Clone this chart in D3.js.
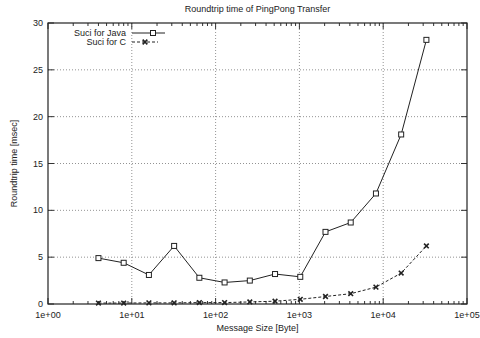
<!DOCTYPE html>
<html>
<head>
<meta charset="utf-8">
<script src="https://cdn.jsdelivr.net/npm/d3@7"></script>
<style>
  body { margin: 0; background: #fff; }
  text { font-family: "Liberation Sans", Arial, sans-serif; fill: #222; }
</style>
</head>
<body>
<div id="vis-container"></div>
<script>
// data
let sizes = [4, 8, 16, 32, 64, 128, 256, 512, 1024, 2048, 4096, 8192, 16384, 32768];
let javaTimes = [4.9, 4.4, 3.1, 6.2, 2.8, 2.3, 2.5, 3.2, 2.9, 7.7, 8.7, 11.8, 18.1, 28.2];
let cTimes = [0.1, 0.1, 0.12, 0.12, 0.15, 0.15, 0.22, 0.3, 0.5, 0.8, 1.1, 1.8, 3.3, 6.2];
let xTicks = [1, 10, 100, 1000, 10000, 100000];
let xTickLabels = ["1e+00", "1e+01", "1e+02", "1e+03", "1e+04", "1e+05"];
let yTicks = [0, 5, 10, 15, 20, 25, 30];

let margin = {top:23, right:13, bottom:34, left:48};
let width = 480 - margin.left - margin.right;
let height = 338 - margin.top - margin.bottom;

let svg = d3.select("#vis-container")
  .append("svg")
  .attr("width", 480)
  .attr("height", 338);

let g = svg.append("g")
  .attr("transform", `translate(${margin.left}, ${margin.top})`);

let x = d3.scaleLog()
  .domain([1, 100000])
  .range([0, width]);

let y = d3.scaleLinear()
  .domain([0, 30])
  .range([height, 0]);

// grid
g.append("g")
  .selectAll("line")
  .data(yTicks.slice(1, -1))
  .enter().append("line")
  .attr("x1", 0).attr("x2", width)
  .attr("y1", d=>y(d)).attr("y2", d=>y(d))
  .attr("stroke", "#777").attr("stroke-width", 0.8)
  .attr("stroke-dasharray", "1,2");

g.append("g")
  .selectAll("line")
  .data(xTicks.slice(1, -1))
  .enter().append("line")
  .attr("y1", 0).attr("y2", height)
  .attr("x1", d=>x(d)).attr("x2", d=>x(d))
  .attr("stroke", "#777").attr("stroke-width", 0.8)
  .attr("stroke-dasharray", "1,2");

// minor ticks on bottom and top
let minor = [];
for (let e = 0; e < 5; e++) {
  for (let k = 2; k < 10; k++) minor.push(k * Math.pow(10, e));
}
g.append("g").selectAll("line").data(minor).enter().append("line")
  .attr("x1", d=>x(d)).attr("x2", d=>x(d))
  .attr("y1", height).attr("y2", height - 3)
  .attr("stroke", "#333");
g.append("g").selectAll("line").data(minor).enter().append("line")
  .attr("x1", d=>x(d)).attr("x2", d=>x(d))
  .attr("y1", 0).attr("y2", 3)
  .attr("stroke", "#333");

// major ticks
g.append("g").selectAll("line").data(xTicks).enter().append("line")
  .attr("x1", d=>x(d)).attr("x2", d=>x(d))
  .attr("y1", 0).attr("y2", 6).attr("stroke", "#333");
g.append("g").selectAll("line").data(xTicks).enter().append("line")
  .attr("x1", d=>x(d)).attr("x2", d=>x(d))
  .attr("y1", height).attr("y2", height - 6).attr("stroke", "#333");
g.append("g").selectAll("line").data(yTicks).enter().append("line")
  .attr("x1", 0).attr("x2", 6)
  .attr("y1", d=>y(d)).attr("y2", d=>y(d)).attr("stroke", "#333");
g.append("g").selectAll("line").data(yTicks).enter().append("line")
  .attr("x1", width).attr("x2", width - 6)
  .attr("y1", d=>y(d)).attr("y2", d=>y(d)).attr("stroke", "#333");

// frame
g.append("rect")
  .attr("width", width).attr("height", height)
  .attr("fill", "none").attr("stroke", "#222").attr("stroke-width", 1.2);

// tick labels
g.append("g").selectAll("text").data(xTicks).enter().append("text")
  .attr("x", d=>x(d)).attr("y", height + 14)
  .attr("text-anchor", "middle").attr("font-size", "9px")
  .text((d,i)=>xTickLabels[i]);

g.append("g").selectAll("text").data(yTicks).enter().append("text")
  .attr("x", -5).attr("y", d=>y(d) + 3)
  .attr("text-anchor", "end").attr("font-size", "9px")
  .text(d=>d);

// titles
svg.append("text")
  .attr("x", margin.left + width/2).attr("y", 12)
  .attr("text-anchor", "middle").attr("font-size", "9px")
  .text("Roundtrip time of PingPong Transfer");

svg.append("text")
  .attr("x", margin.left + width/2).attr("y", 331)
  .attr("text-anchor", "middle").attr("font-size", "9px")
  .text("Message Size [Byte]");

svg.append("text")
  .attr("transform", `translate(17, ${margin.top + height/2}) rotate(-90)`)
  .attr("text-anchor", "middle").attr("font-size", "9px")
  .text("Roundtrip time [msec]");

// series
let javaData = sizes.map((s,i)=>({s:s, v:javaTimes[i]}));
let cData = sizes.map((s,i)=>({s:s, v:cTimes[i]}));

let line = d3.line()
  .x(d=>x(d.s))
  .y(d=>y(d.v));

g.append("path")
  .datum(javaData)
  .attr("d", line)
  .attr("fill", "none").attr("stroke", "#222").attr("stroke-width", 1);

g.append("path")
  .datum(cData)
  .attr("d", line)
  .attr("fill", "none").attr("stroke", "#222").attr("stroke-width", 1)
  .attr("stroke-dasharray", "3,2");

g.append("g").selectAll("rect").data(javaData).enter().append("rect")
  .attr("x", d=>x(d.s) - 2.5).attr("y", d=>y(d.v) - 2.5)
  .attr("width", 5).attr("height", 5)
  .attr("fill", "#fff").attr("stroke", "#222").attr("stroke-width", 1);

let star = d3.symbol().type(d3.symbolX).size(16);
g.append("g").selectAll("path").data(cData).enter().append("path")
  .attr("d", star)
  .attr("transform", d=>`translate(${x(d.s)}, ${y(d.v)})`)
  .attr("fill", "none").attr("stroke", "#222").attr("stroke-width", 1.6);

// legend
let legend = svg.append("g");
legend.append("text")
  .attr("x", 126).attr("y", 36)
  .attr("text-anchor", "end").attr("font-size", "9px")
  .text("Suci for Java");
legend.append("line")
  .attr("x1", 132).attr("x2", 165).attr("y1", 33).attr("y2", 33)
  .attr("stroke", "#222");
legend.append("rect")
  .attr("x", 150.5).attr("y", 30.5).attr("width", 5).attr("height", 5)
  .attr("fill", "#fff").attr("stroke", "#222");

legend.append("text")
  .attr("x", 126).attr("y", 45)
  .attr("text-anchor", "end").attr("font-size", "9px")
  .text("Suci for C");
legend.append("line")
  .attr("x1", 132).attr("x2", 158).attr("y1", 42).attr("y2", 42)
  .attr("stroke", "#222").attr("stroke-dasharray", "3,2");
legend.append("path")
  .attr("d", star)
  .attr("transform", "translate(145, 42)")
  .attr("fill", "none").attr("stroke", "#222").attr("stroke-width", 1.6);
</script>
</body>
</html>
